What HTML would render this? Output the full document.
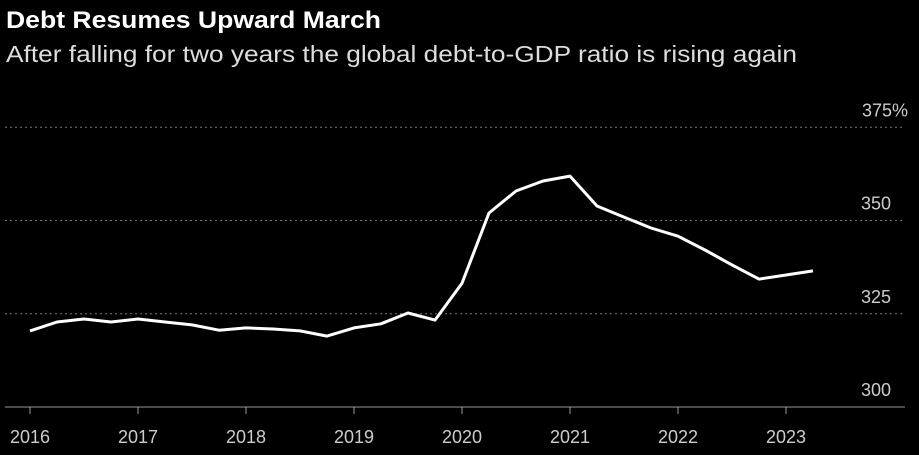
<!DOCTYPE html>
<html><head><meta charset="utf-8"><style>
body{margin:0;background:#000;width:919px;height:455px;overflow:hidden;font-family:"Liberation Sans",sans-serif;color:#fff}
svg{position:absolute;left:0;top:0;font-family:"Liberation Sans",sans-serif}
</style></head><body>
<svg id="c" width="919" height="455">
<text x="6" y="28" font-size="24" font-weight="bold" fill="#fff" textLength="375" lengthAdjust="spacingAndGlyphs">Debt Resumes Upward March</text>
<text x="6" y="62" font-size="23" fill="#ddd" textLength="791" lengthAdjust="spacingAndGlyphs">After falling for two years the global debt-to-GDP ratio is rising again</text>
</svg>
<script>
const years=[2016,2017,2018,2019,2020,2021,2022,2023];
const yTicks=[300,325,350,375];
const yTickLabels=["300","325","350","375%"];
const values=[320.4,322.8,323.6,322.8,323.6,322.8,322,320.6,321.2,320.9,320.4,319,321.2,322.3,325.2,323.3,333.2,352,357.9,360.6,361.9,353.9,350.9,348,345.8,342.1,338.1,334.3,335.4,336.5];
const svg=document.getElementById('c');const NS='http://www.w3.org/2000/svg';
const X=t=>30+(t-2016)*108;
const Y=v=>407-(v-300)*3.73;
function mk(tag,attrs){const e=document.createElementNS(NS,tag);for(const k in attrs)e.setAttribute(k,attrs[k]);svg.appendChild(e);return e;}
yTicks.forEach((v,i)=>{
 if(v>300){const g=mk('line',{x1:5,x2:905,y1:Y(v),y2:Y(v),stroke:'#777','stroke-dasharray':'2,3','stroke-width':1});
 
 }
 const t=mk('text',{x:v==375?908:891,y:Y(v)-11,'text-anchor':'end','font-size':18,fill:'#ccc'});t.textContent=yTickLabels[i];
 
 
});
const b=mk('line',{x1:5,x2:905,y1:407,y2:407,stroke:'#999','stroke-width':1});


years.forEach(yr=>{
 const tk=mk('line',{x1:X(yr),x2:X(yr),y1:407,y2:414,stroke:'#999'});
 
 
 const t=mk('text',{x:X(yr),y:443,'text-anchor':'middle','font-size':18,fill:'#ccc'});t.textContent=yr;
 
 
});
const pts=values.map((v,i)=>X(2016+i/4).toFixed(1)+','+Y(v).toFixed(1)).join(' ');
const l=mk('polyline',{points:pts,fill:'none',stroke:'#fff','stroke-width':3,'stroke-linejoin':'round'});


</script>
</body></html>
